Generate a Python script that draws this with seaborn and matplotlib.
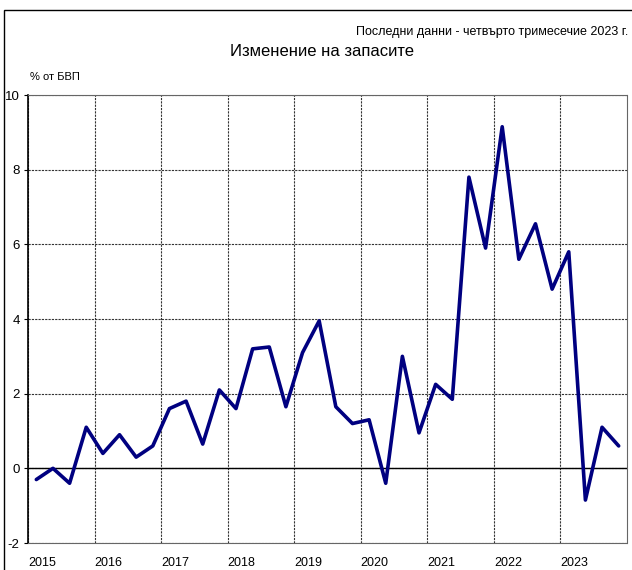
import numpy as np
import pandas as pd
import seaborn as sns
import matplotlib.pyplot as plt
from matplotlib.patches import Rectangle

# Quarterly change in inventories, % of GDP (2015Q1 - 2023Q4)
years = ['2015', '2016', '2017', '2018', '2019', '2020', '2021', '2022', '2023']
values = [-0.3, 0.0, -0.4, 1.1,
          0.4, 0.9, 0.3, 0.6,
          1.6, 1.8, 0.65, 2.1,
          1.6, 3.2, 3.25, 1.65,
          3.1, 3.95, 1.65, 1.2,
          1.3, -0.4, 3.0, 0.95,
          2.25, 1.85, 7.8, 5.9,
          9.15, 5.6, 6.55, 4.8,
          5.8, -0.85, 1.1, 0.6]
yticks = [-2, 0, 2, 4, 6, 8, 10]

df = pd.DataFrame({'pos': np.arange(len(values)) + 0.5, 'value': values})

sns.set_style('white')
plt.rcParams['font.family'] = ['Liberation Sans Narrow', 'Liberation Sans', 'DejaVu Sans']
plt.rcParams['text.color'] = 'black'
plt.rcParams['xtick.color'] = 'black'
plt.rcParams['ytick.color'] = 'black'

fig = plt.figure(figsize=(6.32, 5.7), dpi=100)
ax = fig.add_axes([28 / 632, 1 - 543 / 570, 599 / 632, 448 / 570])

sns.lineplot(data=df, x='pos', y='value', color='#000080', linewidth=2.6, ax=ax)

ax.set_xlim(0, 36)
ax.set_ylim(-2, 10)
ax.set_yticks(yticks)
ax.set_yticklabels([str(t) for t in yticks], fontsize=9.5)
ax.set_xticks(np.arange(0, 36, 4))
ax.set_xticklabels(years, fontsize=9, ha='left')
ax.tick_params(axis='x', length=0, pad=10)
ax.tick_params(axis='y', length=3, width=0.8, direction='out', left=True, pad=3)
ax.set_xlabel('')
ax.set_ylabel('')

grid_kw = dict(color='#333333', linestyle=(0, (2, 1)), linewidth=0.8)
ax.grid(True, **grid_kw)
ax.axhline(0, color='black', linewidth=1.0, zorder=1)

for side in ['top', 'right', 'bottom']:
    ax.spines[side].set_color('#666666')
    ax.spines[side].set_linestyle((0, (2, 1)))
    ax.spines[side].set_linewidth(0.8)
ax.spines['left'].set_color('black')
ax.spines['left'].set_linewidth(1.2)

fig.text(628 / 632, 1 - 32 / 570, 'Последни данни - четвърто тримесечие 2023 г.',
         ha='right', va='center', fontsize=9)
fig.text(322 / 632, 1 - 52 / 570, 'Изменение на запасите',
         ha='center', va='center', fontsize=12)
fig.text(30 / 632, 1 - 77 / 570, '% от БВП', ha='left', va='center', fontsize=8)

fig.patches.append(Rectangle((4 / 632, -0.1), 1.2, 1.1 - 10 / 570,
                             transform=fig.transFigure, fill=False,
                             edgecolor='black', linewidth=1.0))

fig.savefig('out.png', dpi=100)
